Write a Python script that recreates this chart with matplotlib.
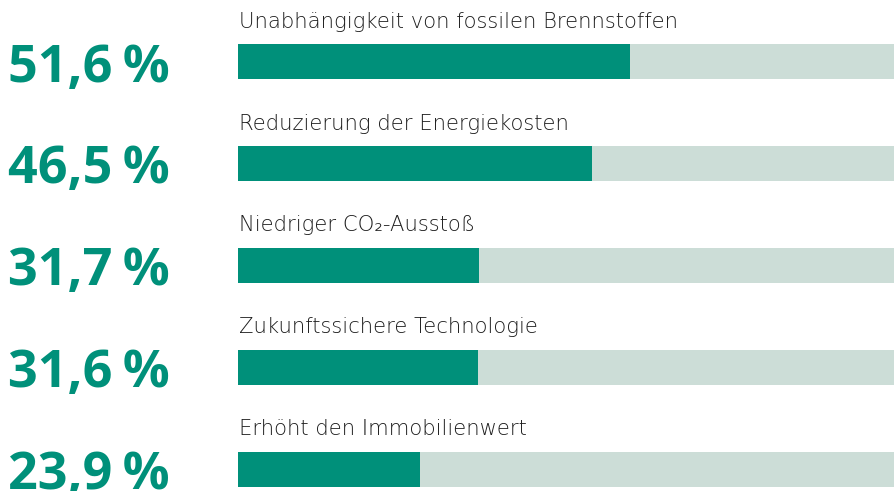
import matplotlib
matplotlib.use("Agg")
import matplotlib.pyplot as plt
from matplotlib import transforms

labels = [
    "Unabhängigkeit von fossilen Brennstoffen",
    "Reduzierung der Energiekosten",
    "Niedriger CO₂-Ausstoß",
    "Zukunftssichere Technologie",
    "Erhöht den Immobilienwert",
]
values = [51.6, 46.5, 31.7, 31.6, 23.9]
value_texts = ["51,6\u2009%", "46,5\u2009%", "31,7\u2009%", "31,6\u2009%", "23,9\u2009%"]

TEAL = "#00907A"
BG = "#CCDDD7"

fig = plt.figure(figsize=(8.95, 4.91), dpi=100)
ax = fig.add_axes([238 / 895, 0, 1 - 238 / 895, 1])
ax.set_axis_off()

n = len(values)
ypos = list(range(n))
h = 0.344
ax.barh(ypos, [100] * n, height=h, color=BG, left=0)
ax.barh(ypos, values, height=h, color=TEAL, left=0)
ax.set_xlim(0, 86.4)
ax.set_ylim(4.216, -0.609)

label_font = ["DejaVu Sans"]
num_font = ["Open Sans", "DejaVu Sans"]
blend = transforms.blended_transform_factory(fig.transFigure, ax.transData)

for i, (lab, vt) in enumerate(zip(labels, value_texts)):
    ax.annotate(lab, xy=(0, i - h / 2), xytext=(1.0, 12.0),
                textcoords="offset points", ha="left", va="baseline",
                fontsize=15.2, family=label_font, fontweight="light",
                color="#1e1e1e")
    ax.annotate(vt, xy=(8 / 895, i + h / 2), xycoords=blend,
                xytext=(0, -1.5), textcoords="offset points",
                ha="left", va="baseline", fontsize=37.5,
                family=num_font, fontweight="bold", color=TEAL)

fig.savefig("out.png", dpi=100)
